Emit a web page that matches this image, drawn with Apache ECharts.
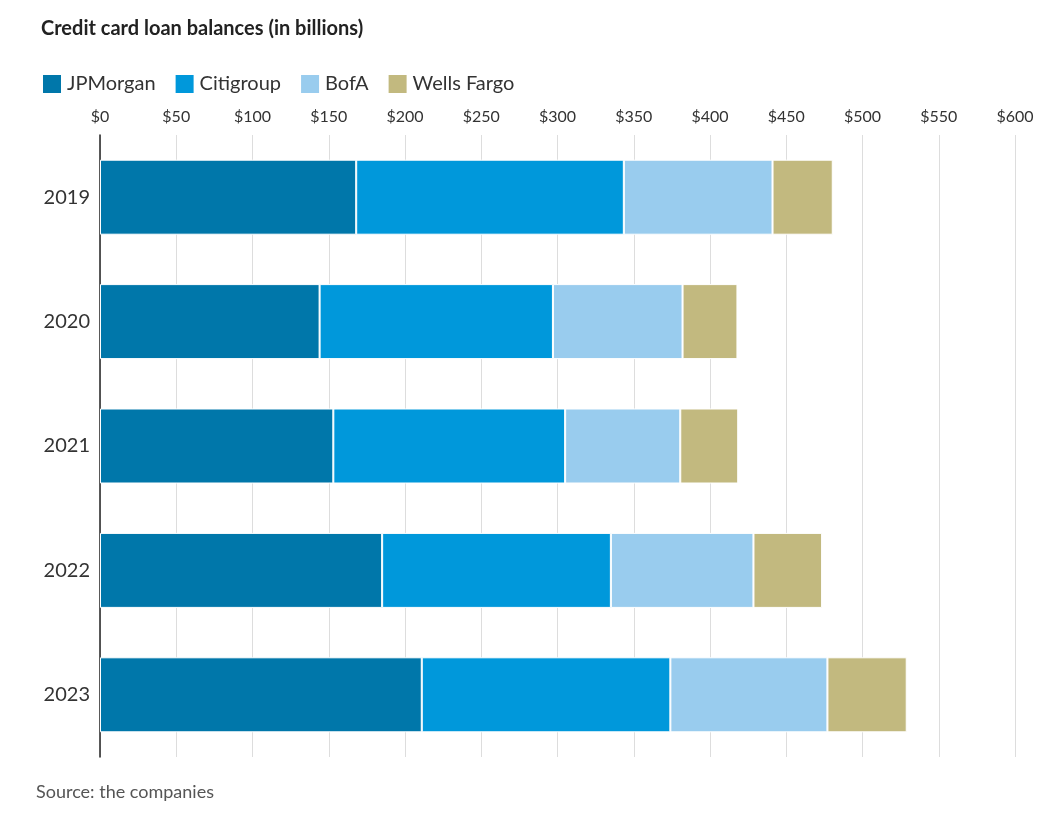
<!DOCTYPE html><html><head><meta charset="utf-8"><script src="https://cdn.jsdelivr.net/npm/echarts@6/dist/echarts.min.js"></script>
<style>body{margin:0;background:#fff}#c{width:1060px;height:832px}</style></head><body><div id="c"></div><script>
const years=['2019','2020','2021','2022','2023'];
const jpm=[168,144,153,185,211];
const citi=[175.5,153,152,150,163];
const bofa=[97.5,85,75.5,93.5,103];
const wells=[39.5,36,38,45,52];
const names=['JPMorgan','Citigroup','BofA','Wells Fargo'];
const colors=['#0077aa','#0098db','#99ccee','#c2b97f'];
const data=[jpm,citi,bofa,wells];
const f='Lato, "Open Sans", sans-serif';
const ch=echarts.init(document.getElementById('c'));
ch.setOption({animation:false,
title:{text:'Credit card loan balances (in billions)',left:36,top:14,textStyle:{fontFamily:f,fontSize:20,fontWeight:'bold',color:'#222'}},
legend:{left:36,top:68,itemWidth:20,itemHeight:20,itemGap:18,icon:'rect',textStyle:{fontFamily:f,fontSize:20,color:'#333'},data:names},
grid:{left:100,right:45,top:135,bottom:75},
xAxis:{type:'value',position:'top',min:0,max:600,interval:50,axisLine:{show:false},axisTick:{show:false},
axisLabel:{formatter:'${value}',fontFamily:f,fontSize:16,color:'#333',margin:10},splitLine:{lineStyle:{color:'#ddd'}}},
yAxis:{type:'category',inverse:true,data:years,axisLine:{lineStyle:{color:'#222',width:1.5}},axisTick:{show:false},
axisLabel:{fontFamily:f,fontSize:20,color:'#333',margin:10}},
series:data.map((d,i)=>({name:names[i],type:'bar',stack:'s',data:d,barWidth:75,itemStyle:{color:colors[i],borderColor:'#fff',borderWidth:1}})),
graphic:[{type:'text',left:36,top:783,style:{text:'Source: the companies',font:'18px '+f,fill:'#555'}}]
});
</script></body></html>
